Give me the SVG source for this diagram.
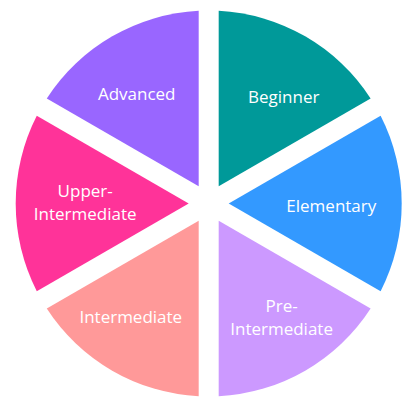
<svg xmlns="http://www.w3.org/2000/svg" xmlns:xlink="http://www.w3.org/1999/xlink" width="402" height="398" viewBox="0 0 402 398">
  <style>
    .lbl { font-family: "Open Sans", "Noto Sans", sans-serif; font-size: 17px; fill: #ffffff; text-anchor: middle; }
  </style>
  <defs>
    <path id="slice" d="M 10,-17.32 L 10,-192.74 A 193 193 0 0 1 161.92,-105.03 Z"/>
  </defs>
  <rect width="402" height="398" fill="#ffffff"/>
  <g id="beginner">
    <use xlink:href="#slice" href="#slice" transform="translate(208.7,203.5) rotate(0)" fill="#009999"/>
    <text class="lbl" x="283.7" y="102.7">Beginner</text>
  </g>
  <g id="elementary">
    <use xlink:href="#slice" href="#slice" transform="translate(208.7,203.5) rotate(60)" fill="#3399FF"/>
    <text class="lbl" x="331.3" y="211.7">Elementary</text>
  </g>
  <g id="pre-intermediate">
    <use xlink:href="#slice" href="#slice" transform="translate(208.7,203.5) rotate(120)" fill="#CC99FF"/>
    <text class="lbl" x="281.6" y="311.7">Pre-</text>
    <text class="lbl" x="281.6" y="335">Intermediate</text>
  </g>
  <g id="intermediate">
    <use xlink:href="#slice" href="#slice" transform="translate(208.7,203.5) rotate(180)" fill="#FF9999"/>
    <text class="lbl" x="130.8" y="323.3">Intermediate</text>
  </g>
  <g id="upper-intermediate">
    <use xlink:href="#slice" href="#slice" transform="translate(208.7,203.5) rotate(240)" fill="#FF3399"/>
    <text class="lbl" x="85.2" y="196.7">Upper-</text>
    <text class="lbl" x="85.2" y="220">Intermediate</text>
  </g>
  <g id="advanced">
    <use xlink:href="#slice" href="#slice" transform="translate(208.7,203.5) rotate(300)" fill="#9966FF"/>
    <text class="lbl" x="136.7" y="99.5">Advanced</text>
  </g>
  <g id="connectors"/>
</svg>
